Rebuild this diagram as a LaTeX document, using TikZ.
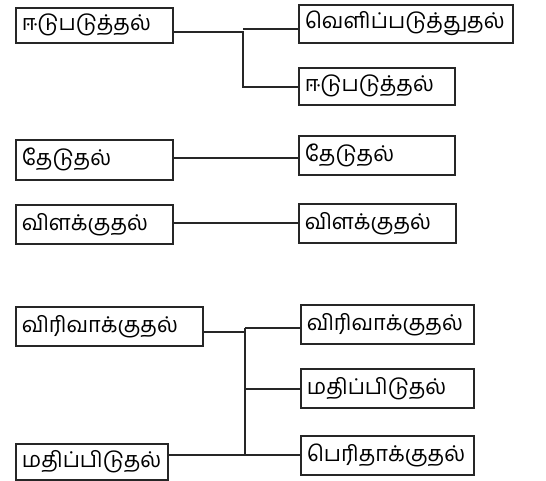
\documentclass[tikz,border=0pt]{standalone}
\usepackage{fontspec}
\newfontfamily\tamilfont[Script=Tamil]{Hind Madurai}
\begin{document}
\begin{tikzpicture}[x=0.75pt,y=-0.75pt,
  bx/.style n args={2}{draw=black!85, line width=1.2pt, rectangle, anchor=north west,
    minimum width=#1*0.75pt, minimum height=#2*0.75pt, inner xsep=4.5pt, inner ysep=0pt,
    text width=#1*0.75pt-9pt, align=left, font=\tamilfont\fontsize{16.3}{18}\selectfont},
  link/.style={draw=black!85, line width=1pt}]
\useasboundingbox (0,0) rectangle (546,481);
% group 1
\node[bx={157}{35}] (a1) at (15,7) {ஈடுபடுத்தல்};
\node[bx={214}{38}] (b1) at (298,4) {வெளிப்படுத்துதல்};
\node[bx={156}{37}] (c1) at (298,67) {ஈடுபடுத்தல்};
\coordinate (j1a) at (243,32);
\coordinate (j1b) at (243,29);
\coordinate (j1c) at (243,87);
\draw[link] (a1.east |- j1a) -- (j1a) -- (j1c) -- (c1.west |- j1c);
\draw[link] (j1b) -- (b1.west |- j1b);
% group 2
\node[bx={157}{40}] (d1) at (15,139) {தேடுதல்};
\node[bx={156}{39}] (e1) at (298,135) {தேடுதல்};
\coordinate (j2) at (235,158);
\draw[link] (d1.east |- j2) -- (e1.west |- j2);
% group 3
\node[bx={157}{39}] (f1) at (15,204) {விளக்குதல்};
\node[bx={157}{39}] (g1) at (298,203) {விளக்குதல்};
\coordinate (j3) at (235,223);
\draw[link] (f1.east |- j3) -- (g1.west |- j3);
% group 4
\node[bx={187}{39}] (h1) at (15,306) {விரிவாக்குதல்};
\node[bx={173}{39}] (i1) at (300,304) {விரிவாக்குதல்};
\node[bx={173}{39}] (k1) at (300,368) {மதிப்பிடுதல்};
\node[bx={173}{39}] (m1) at (300,435) {பெரிதாக்குதல்};
\node[bx={152}{36}] (l1) at (15,443) {மதிப்பிடுதல்};
\coordinate (j4a) at (245,332);
\coordinate (j4b) at (245,328);
\coordinate (j4c) at (245,389);
\coordinate (j4d) at (245,455);
\draw[link] (h1.east |- j4a) -- (j4a);
\draw[link] (j4b) -- (j4d);
\draw[link] (j4b) -- (i1.west |- j4b);
\draw[link] (j4c) -- (k1.west |- j4c);
\draw[link] (l1.east |- j4d) -- (m1.west |- j4d);
\end{tikzpicture}
\end{document}
